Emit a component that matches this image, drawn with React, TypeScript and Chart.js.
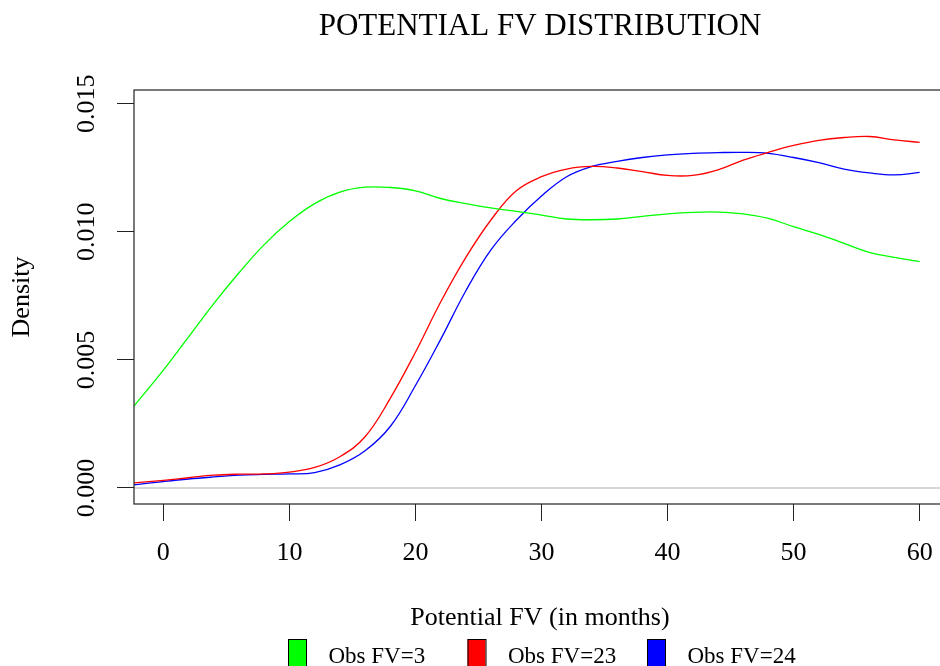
import React, { useEffect, useRef } from "react";
import { Chart, registerables } from "chart.js";

Chart.register(...registerables);

const TITLE = "POTENTIAL FV DISTRIBUTION";
const X_TITLE = "Potential FV (in months)";
const Y_TITLE = "Density";

const X_MIN = -2.33;
const X_MAX = 62.33;
const Y_MIN = -0.000625;
const Y_MAX = 0.015535;

const xTicks = [0, 10, 20, 30, 40, 50, 60];
const yTicks = [0, 0.005, 0.01, 0.015];

const seriesLabels = ["Obs FV=3", "Obs FV=23", "Obs FV=24"];
const seriesColors = ["#00ff00", "#ff0000", "#0000ff"];

const fvGrid = [
  -2.33, 0, 2, 4, 6, 8, 10, 12, 14, 16, 18, 20, 22, 24, 26, 28, 30, 32, 34, 36,
  38, 40, 42, 44, 46, 48, 50, 52, 54, 56, 58, 60,
];

const densityFV3 = [
  0.0032, 0.0046, 0.0059, 0.0072, 0.0084, 0.0095, 0.0104, 0.0111, 0.01155,
  0.01174, 0.01173, 0.0116, 0.0113, 0.0111, 0.01093, 0.0108, 0.01065, 0.0105,
  0.01047, 0.0105, 0.0106, 0.0107, 0.01076, 0.01077, 0.0107, 0.01052, 0.0102,
  0.0099, 0.00955, 0.0092, 0.009, 0.00884,
];

const densityFV23 = [
  0.0002, 0.0003, 0.0004, 0.0005, 0.00054, 0.00055, 0.00062, 0.0008, 0.00122,
  0.002, 0.0035, 0.0053, 0.00726, 0.009, 0.01047, 0.0116, 0.01215, 0.01245,
  0.01255, 0.01249, 0.01235, 0.0122, 0.0122, 0.01242, 0.0128, 0.0131, 0.01337,
  0.01357, 0.01368, 0.01372, 0.01359, 0.01349,
];

const densityFV24 = [
  0.00012, 0.00025, 0.00035, 0.00043, 0.0005, 0.00053, 0.00055, 0.0006,
  0.0009, 0.00145, 0.0024, 0.004, 0.0058, 0.0077, 0.0093, 0.01045, 0.0114,
  0.01215, 0.01255, 0.01275, 0.0129, 0.013, 0.01306, 0.01309, 0.0131, 0.01306,
  0.0129, 0.0127, 0.01245, 0.0123, 0.01222, 0.01232,
];

const seriesValues = [densityFV3, densityFV23, densityFV24];

const FONT = "'Liberation Serif', 'Times New Roman', serif";

const decorPlugin = {
  id: "decor",
  beforeDatasetsDraw(chart: any) {
    const { ctx, chartArea: a, scales } = chart;
    const y0 = scales.y.getPixelForValue(0);
    ctx.save();
    ctx.strokeStyle = "#c8c8c8";
    ctx.lineWidth = 1.5;
    ctx.beginPath();
    ctx.moveTo(a.left, y0);
    ctx.lineTo(a.right, y0);
    ctx.stroke();
    ctx.restore();
  },
  afterDraw(chart: any) {
    const { ctx, chartArea: a } = chart;
    ctx.save();
    ctx.strokeStyle = "#222";
    ctx.lineWidth = 1.2;
    ctx.strokeRect(a.left, a.top, a.right - a.left, a.bottom - a.top);

    ctx.fillStyle = "#000";
    ctx.textAlign = "center";
    ctx.textBaseline = "alphabetic";
    const cx = 540;
    ctx.font = `31px ${FONT}`;
    ctx.fillText(TITLE, cx, 35);
    ctx.font = `26px ${FONT}`;
    ctx.fillText(X_TITLE, cx, 625);
    ctx.save();
    ctx.translate(29, (a.top + a.bottom) / 2);
    ctx.rotate(-Math.PI / 2);
    ctx.fillText(Y_TITLE, 0, 0);
    ctx.restore();

    ctx.font = `23px ${FONT}`;
    ctx.textAlign = "left";
    chart.data.datasets.forEach((ds: any, i: number) => {
      const bx = 288 + i * 179.5;
      ctx.fillStyle = ds.borderColor;
      ctx.fillRect(bx, 639, 18, 32);
      ctx.strokeStyle = "#000";
      ctx.lineWidth = 1;
      ctx.strokeRect(bx + 0.5, 639.5, 18, 32);
      ctx.fillStyle = "#000";
      ctx.fillText(ds.label, bx + 40.5, 663);
    });
    ctx.restore();
  },
};

export default function App() {
  const canvasRef = useRef<HTMLCanvasElement | null>(null);

  useEffect(() => {
    const canvas = canvasRef.current;
    if (!canvas) return;
    const tickFont = { family: FONT, size: 26 };
    const chart = new Chart(canvas, {
      type: "line",
      data: {
        datasets: seriesLabels.map((label, i) => ({
          label,
          data: fvGrid.map((x, j) => ({ x, y: seriesValues[i][j] })),
          borderColor: seriesColors[i],
          backgroundColor: seriesColors[i],
          borderWidth: 1.3,
          pointRadius: 0,
          fill: false,
          tension: 0.4,
        })),
      },
      options: {
        animation: false,
        responsive: false,
        devicePixelRatio: 1,
        layout: { padding: { top: 90, left: 0, right: 51, bottom: 0 } },
        plugins: {
          legend: { display: false },
          title: { display: false },
          tooltip: { enabled: false },
        },
        scales: {
          x: {
            type: "linear",
            min: X_MIN,
            max: X_MAX,
            afterBuildTicks: (s: any) => {
              s.ticks = xTicks.map((v) => ({ value: v }));
            },
            afterFit: (s: any) => {
              s.height = 162;
            },
            border: { display: false },
            grid: {
              drawOnChartArea: false,
              drawTicks: true,
              tickLength: 17,
              color: "#222",
              lineWidth: 1,
            },
            ticks: {
              font: tickFont,
              color: "#000",
              padding: 17,
              minRotation: 0,
              maxRotation: 0,
              autoSkip: false,
              callback: (v: any) => String(v),
            },
          },
          y: {
            type: "linear",
            min: Y_MIN,
            max: Y_MAX,
            afterBuildTicks: (s: any) => {
              s.ticks = yTicks.map((v) => ({ value: v }));
            },
            afterFit: (s: any) => {
              s.width = 134;
            },
            border: { display: false },
            grid: {
              drawOnChartArea: false,
              drawTicks: true,
              tickLength: 17,
              color: "#222",
              lineWidth: 1,
            },
            ticks: {
              font: tickFont,
              color: "#000",
              padding: 1,
              minRotation: 90,
              maxRotation: 90,
              crossAlign: "center",
              autoSkip: false,
              callback: (v: any) => Number(v).toFixed(3),
            },
          },
        },
      } as any,
      plugins: [decorPlugin],
    } as any);
    return () => chart.destroy();
  }, []);

  return (
    <div
      style={{
        position: "fixed",
        left: 0,
        top: 0,
        width: 940,
        height: 666,
        overflow: "hidden",
        background: "#fff",
      }}
    >
      <canvas
        ref={canvasRef}
        width={1000}
        height={666}
        style={{ display: "block", width: 1000, height: 666 }}
      />
    </div>
  );
}
